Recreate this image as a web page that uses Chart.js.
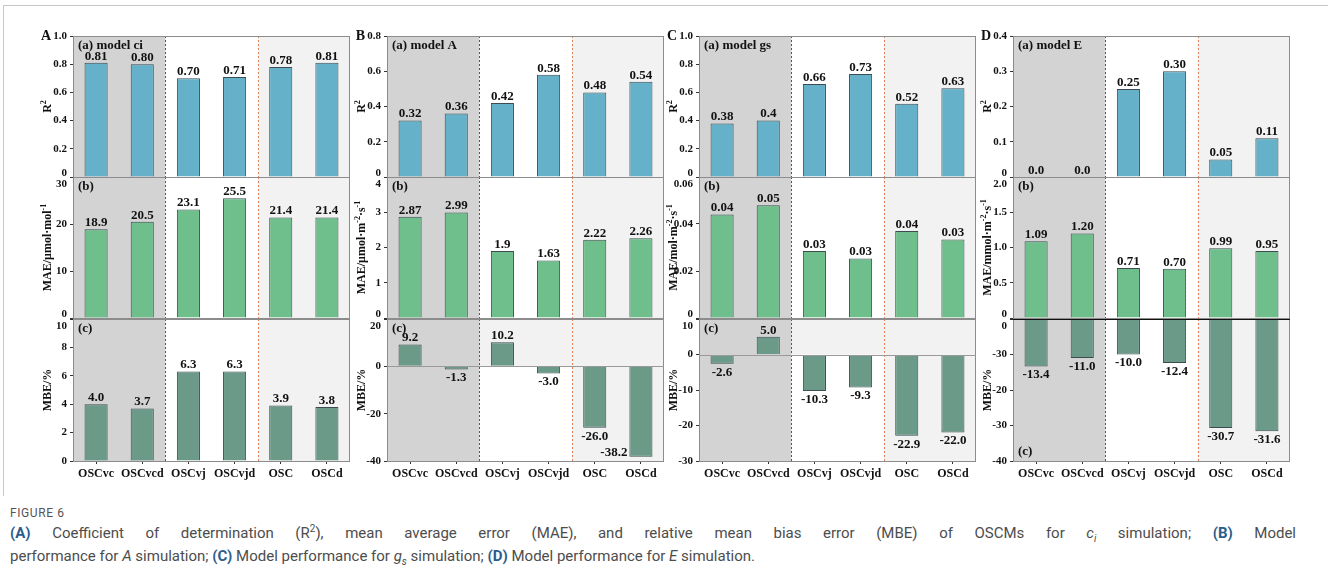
<!DOCTYPE html>
<html>
<head>
<meta charset="utf-8">
<script src="https://cdn.jsdelivr.net/npm/chart.js@4.4.1/dist/chart.umd.min.js"></script>
<style>
html, body { margin: 0; padding: 0; background: #fff; }
body { width: 1328px; height: 578px; position: relative; overflow: hidden; }
#frame { position: absolute; left: 3px; top: 5px; width: 1325px; height: 490px;
  border-top: 1px solid #c8c8c8; border-left: 1px solid #c8c8c8; }
canvas { position: absolute; }
#cap { position: absolute; left: 10px; top: 504px; font-family: Roboto, 'Open Sans', sans-serif; color: #4d4d4d; }
#cap .fig { font-size: 12px; letter-spacing: 0.6px; color: #555; line-height: 18px; }
#cap .line { font-size: 15px; line-height: 23px; white-space: nowrap; }
#cap .line.j { width: 1286px; white-space: normal; text-align: justify; text-align-last: justify; }
#cap .line b { color: #2b5d8c; }
#cap sup, #cap sub { font-size: 10px; line-height: 0; }
</style>
</head>
<body>
<div id="frame"></div>
<div id="figs"></div>
<div id="cap">
  <div class="fig">FIGURE 6</div>
  <div class="line j"><b>(A)</b> Coefficient of determination (R<sup>2</sup>), mean average error (MAE), and relative mean bias error (MBE) of OSCMs for <i>c<sub>i</sub></i> simulation; <b>(B)</b> Model</div>
  <div class="line">performance for <i>A</i> simulation; <b>(C)</b> Model performance for <i>g<sub>s</sub></i> simulation; <b>(D)</b> Model performance for <i>E</i> simulation.</div>
</div>
<script>
(function () {
    'use strict';

    // ---- data ----
    var categories = ['OSCvc', 'OSCvcd', 'OSCvj', 'OSCvjd', 'OSC', 'OSCd'];

    // (A) ci
    var r2Ci = [0.81, 0.80, 0.70, 0.71, 0.78, 0.81];
    var r2CiText = ['0.81', '0.80', '0.70', '0.71', '0.78', '0.81'];
    var maeCi = [18.9, 20.5, 23.1, 25.5, 21.4, 21.4];
    var maeCiText = ['18.9', '20.5', '23.1', '25.5', '21.4', '21.4'];
    var mbeCi = [4.0, 3.7, 6.3, 6.3, 3.9, 3.8];
    var mbeCiText = ['4.0', '3.7', '6.3', '6.3', '3.9', '3.8'];

    // (B) A
    var r2A = [0.32, 0.36, 0.42, 0.58, 0.48, 0.54];
    var r2AText = ['0.32', '0.36', '0.42', '0.58', '0.48', '0.54'];
    var maeA = [2.87, 2.99, 1.9, 1.63, 2.22, 2.26];
    var maeAText = ['2.87', '2.99', '1.9', '1.63', '2.22', '2.26'];
    var mbeA = [9.2, -1.3, 10.2, -3.0, -26.0, -38.2];
    var mbeAText = ['9.2', '-1.3', '10.2', '-3.0', '-26.0', '-38.2'];

    // (C) gs
    var r2Gs = [0.38, 0.40, 0.66, 0.73, 0.52, 0.63];
    var r2GsText = ['0.38', '0.4', '0.66', '0.73', '0.52', '0.63'];
    var maeGs = [0.044, 0.048, 0.0285, 0.0253, 0.037, 0.0334];
    var maeGsText = ['0.04', '0.05', '0.03', '0.03', '0.04', '0.03'];
    var mbeGs = [-2.6, 5.0, -10.3, -9.3, -22.9, -22.0];
    var mbeGsText = ['-2.6', '5.0', '-10.3', '-9.3', '-22.9', '-22.0'];

    // (D) E
    var r2E = [0.0, 0.0, 0.25, 0.30, 0.05, 0.11];
    var r2EText = ['0.0', '0.0', '0.25', '0.30', '0.05', '0.11'];
    var maeE = [1.09, 1.20, 0.71, 0.70, 0.99, 0.95];
    var maeEText = ['1.09', '1.20', '0.71', '0.70', '0.99', '0.95'];
    var mbeE = [-13.4, -11.0, -10.0, -12.4, -30.7, -31.6];
    var mbeEText = ['-13.4', '-11.0', '-10.0', '-12.4', '-30.7', '-31.6'];

    // y ticks
    var ticksR2One = [0, 0.2, 0.4, 0.6, 0.8, 1.0];
    var ticksR2OneText = ['0', '0.2', '0.4', '0.6', '0.8', '1.0'];
    var ticksR2A = [0, 0.2, 0.4, 0.6, 0.8];
    var ticksR2AText = ['0', '0.2', '0.4', '0.6', '0.8'];
    var ticksR2E = [0, 0.1, 0.2, 0.3, 0.4];
    var ticksR2EText = ['0', '0.1', '0.2', '0.3', '0.4'];
    var ticksMaeCi = [0, 10, 20, 30];
    var ticksMaeCiText = ['0', '10', '20', '30'];
    var ticksMaeA = [0, 1, 2, 3, 4];
    var ticksMaeAText = ['0', '1', '2', '3', '4'];
    var ticksMaeGs = [0, 0.02, 0.04, 0.06];
    var ticksMaeGsText = ['0', '0.02', '0.04', '0.06'];
    var ticksMaeE = [0, 0.5, 1.0, 1.5, 2.0];
    var ticksMaeEText = ['0', '0.5', '1.0', '1.5', '2.0'];
    var ticksMbeCi = [0, 2, 4, 6, 8, 10];
    var ticksMbeCiText = ['0', '2', '4', '6', '8', '10'];
    var ticksMbeA = [-40, -20, 0, 20];
    var ticksMbeAText = ['-40', '-20', '0', '20'];
    var ticksMbeGs = [-30, -20, -10, 0, 10];
    var ticksMbeGsText = ['-30', '-20', '-10', '0', '10'];
    var ticksMbeE = [-40, -30, -20, -10, 0];
    var ticksMbeEText = ['-40', '-30', '-20', '-30', '0'];

    // ---- look ----
    var SERIF = "'Liberation Serif', 'Times New Roman', serif";
    var BLUE = '#65b1ca';
    var GREEN = '#6ebf8b';
    var DKGREEN = '#6b9a89';
    var EDGE = '#3b4b50';
    var SHADE_DARK = '#d3d3d3';
    var SHADE_LIGHT = '#f2f2f2';
    var TXT = '#111';

    var COL_LEFT = [73, 387, 699, 1013];
    var PLOT_W = 277;
    var ROW_TOP = [36, 177, 319];
    var ROW_H = [141, 141, 142];

    var ylabR2 = [['R', 0], ['2', 1]];
    var ylabMbe = [['MBE/%', 0]];

    var columns = [
        { letter: 'A', title: '(a) model ci', rows: [
            { values: r2Ci, text: r2CiText, ticks: ticksR2One, tickText: ticksR2OneText, color: BLUE, ylab: ylabR2 },
            { values: maeCi, text: maeCiText, ticks: ticksMaeCi, tickText: ticksMaeCiText, color: GREEN,
              ylab: [['MAE/\u03bcmol\u00b7mol', 0], ['-1', 1]] },
            { values: mbeCi, text: mbeCiText, ticks: ticksMbeCi, tickText: ticksMbeCiText, color: DKGREEN, ylab: ylabMbe }
        ] },
        { letter: 'B', title: '(a) model A', rows: [
            { values: r2A, text: r2AText, ticks: ticksR2A, tickText: ticksR2AText, color: BLUE, ylab: ylabR2 },
            { values: maeA, text: maeAText, ticks: ticksMaeA, tickText: ticksMaeAText, color: GREEN,
              ylab: [['MAE/\u03bcmol\u00b7m', 0], ['-2', 1], ['\u00b7s', 0], ['-1', 1]] },
            { values: mbeA, text: mbeAText, ticks: ticksMbeA, tickText: ticksMbeAText, color: DKGREEN, ylab: ylabMbe,
              band: true, zeroColor: '#9a9a9a' }
        ] },
        { letter: 'C', title: '(a) model gs', rows: [
            { values: r2Gs, text: r2GsText, ticks: ticksR2One, tickText: ticksR2OneText, color: BLUE, ylab: ylabR2 },
            { values: maeGs, text: maeGsText, ticks: ticksMaeGs, tickText: ticksMaeGsText, color: GREEN,
              ylab: [['MAE/mol\u00b7m', 0], ['-2', 1], ['\u00b7s', 0], ['-1', 1]] },
            { values: mbeGs, text: mbeGsText, ticks: ticksMbeGs, tickText: ticksMbeGsText, color: DKGREEN, ylab: ylabMbe,
              band: true, zeroColor: '#9a9a9a' }
        ] },
        { letter: 'D', title: '(a) model E', rows: [
            { values: r2E, text: r2EText, ticks: ticksR2E, tickText: ticksR2EText, color: BLUE, ylab: ylabR2 },
            { values: maeE, text: maeEText, ticks: ticksMaeE, tickText: ticksMaeEText, color: GREEN,
              ylab: [['MAE/mmol\u00b7m', 0], ['-2', 1], ['\u00b7s', 0], ['-1', 1]] },
            { values: mbeE, text: mbeEText, ticks: ticksMbeE, tickText: ticksMbeEText, color: DKGREEN, ylab: ylabMbe,
              zeroColor: '#111', panelAtBottom: true }
        ] }
    ];

    function drawRich(ctx, segs, cx, cy, size) {
        var main = 'bold ' + size + 'px ' + SERIF;
        var small = 'bold ' + Math.round(size * 0.68) + 'px ' + SERIF;
        var w = 0;
        segs.forEach(function (s) {
            ctx.font = s[1] ? small : main;
            w += ctx.measureText(s[0]).width;
        });
        ctx.save();
        ctx.translate(cx, cy);
        ctx.rotate(-Math.PI / 2);
        ctx.textAlign = 'left';
        ctx.textBaseline = 'middle';
        ctx.fillStyle = TXT;
        var x = -w / 2;
        segs.forEach(function (s) {
            ctx.font = s[1] ? small : main;
            ctx.fillText(s[0], x, s[1] ? -size * 0.38 : 0);
            x += ctx.measureText(s[0]).width;
        });
        ctx.restore();
    }

    function cellPlugin(col, row, ri) {
        return {
            id: 'cellDecor',
            beforeDatasetsDraw: function (chart) {
                var ctx = chart.ctx, a = chart.chartArea;
                var xs = chart.scales.x, ys = chart.scales.y;
                var s1 = (xs.getPixelForValue(1) + xs.getPixelForValue(2)) / 2;
                var s2 = (xs.getPixelForValue(3) + xs.getPixelForValue(4)) / 2;
                ctx.save();
                if (row.band) {
                    var y0 = ys.getPixelForValue(0);
                    ctx.fillStyle = SHADE_LIGHT;
                    ctx.fillRect(a.left, a.top, a.right - a.left, y0 - a.top);
                }
                ctx.fillStyle = SHADE_DARK;
                ctx.fillRect(a.left, a.top, s1 - a.left, a.bottom - a.top);
                ctx.fillStyle = SHADE_LIGHT;
                ctx.fillRect(s2, a.top, a.right - s2, a.bottom - a.top);

                ctx.lineWidth = 1;
                ctx.setLineDash([2, 2]);
                ctx.strokeStyle = '#555';
                ctx.beginPath();
                ctx.moveTo(Math.round(s1) + 0.5, a.top);
                ctx.lineTo(Math.round(s1) + 0.5, a.bottom);
                ctx.stroke();
                ctx.strokeStyle = '#e5845e';
                ctx.beginPath();
                ctx.moveTo(Math.round(s2) + 0.5, a.top);
                ctx.lineTo(Math.round(s2) + 0.5, a.bottom);
                ctx.stroke();
                ctx.restore();
            },
            afterDatasetsDraw: function (chart) {
                var ctx = chart.ctx, a = chart.chartArea;
                var ys = chart.scales.y;
                ctx.save();
                // frame
                ctx.strokeStyle = '#8c8c8c';
                ctx.lineWidth = 1;
                ctx.strokeRect(a.left + 0.5, a.top + 0.5, a.right - a.left - 1, a.bottom - a.top);
                if (row.zeroColor) {
                    var yz = Math.round(ys.getPixelForValue(0)) + 0.5;
                    ctx.strokeStyle = row.zeroColor;
                    ctx.beginPath();
                    ctx.moveTo(a.left, yz);
                    ctx.lineTo(a.right, yz);
                    ctx.stroke();
                }

                // y tick labels (edge labels nudged away from the row joins)
                ctx.fillStyle = TXT;
                ctx.font = 'bold 11px ' + SERIF;
                ctx.textAlign = 'right';
                ctx.textBaseline = 'middle';
                var n = row.ticks.length;
                row.ticks.forEach(function (v, i) {
                    var dy = 0;
                    if (i === n - 1 && ri > 0) { dy = 7; }
                    if (i === 0 && ri < 2) { dy = -4; }
                    ctx.fillText(row.tickText[i], a.left - 6, ys.getPixelForValue(v) + dy);
                });

                // value labels
                ctx.font = 'bold 13px ' + SERIF;
                var meta = chart.getDatasetMeta(0);
                meta.data.forEach(function (el, i) {
                    var v = row.values[i];
                    var t = row.text[i];
                    if (v >= 0) {
                        ctx.textAlign = 'center';
                        ctx.textBaseline = 'bottom';
                        ctx.fillText(t, el.x, el.y);
                    } else if (el.y + 16 > a.bottom) {
                        ctx.textAlign = 'right';
                        ctx.textBaseline = 'bottom';
                        ctx.fillText(t, el.x - el.width / 2 - 2, el.y + 2);
                    } else {
                        ctx.textAlign = 'center';
                        ctx.textBaseline = 'top';
                        ctx.fillText(t, el.x, el.y + 2);
                    }
                });

                // panel tag
                ctx.font = 'bold 13px ' + SERIF;
                ctx.textAlign = 'left';
                ctx.textBaseline = 'middle';
                var tag = ri === 0 ? col.title : (ri === 1 ? '(b)' : '(c)');
                ctx.fillText(tag, a.left + 5, row.panelAtBottom ? a.bottom - 9 : a.top + 10);

                // column letter
                if (ri === 0) {
                    ctx.font = 'bold 14px ' + SERIF;
                    ctx.textAlign = 'right';
                    ctx.fillText(col.letter, a.left - 22, a.top);
                }
                ctx.restore();

                drawRich(ctx, row.ylab, a.left - 25, (a.top + a.bottom) / 2, 12);
            }
        };
    }

    function makeCell(ci, ri) {
        var col = columns[ci];
        var row = col.rows[ri];
        var last = ri === 2;
        var padTop = 16, padBottom = last ? 28 : 16, padLeft = 74, padRight = 34;
        var canvas = document.createElement('canvas');
        canvas.width = padLeft + PLOT_W + padRight;
        canvas.height = padTop + ROW_H[ri] + padBottom;
        canvas.style.left = (COL_LEFT[ci] - padLeft) + 'px';
        canvas.style.top = (ROW_TOP[ri] - padTop) + 'px';
        document.getElementById('figs').appendChild(canvas);

        new Chart(canvas, {
            type: 'bar',
            data: {
                labels: categories,
                datasets: [{
                    data: row.values,
                    backgroundColor: row.color,
                    borderColor: EDGE,
                    borderWidth: 1,
                    barPercentage: 0.5,
                    categoryPercentage: 1
                }]
            },
            options: {
                responsive: false,
                animation: false,
                devicePixelRatio: 1,
                layout: { padding: { left: 0, top: padTop, right: padRight, bottom: last ? 0 : padBottom } },
                plugins: { legend: { display: false }, tooltip: { enabled: false } },
                scales: {
                    x: {
                        offset: true,
                        border: { display: false },
                        grid: { display: last, drawOnChartArea: false, offset: false, tickLength: 3, color: '#333' },
                        ticks: {
                            display: last,
                            autoSkip: false,
                            maxRotation: 0,
                            padding: 3,
                            color: TXT,
                            font: { family: SERIF, size: 12, weight: 'bold' }
                        },
                        afterFit: function (s) { s.height = last ? padBottom : 0; }
                    },
                    y: {
                        min: row.ticks[0],
                        max: row.ticks[row.ticks.length - 1],
                        afterBuildTicks: function (s) {
                            s.ticks = row.ticks.map(function (v) { return { value: v }; });
                        },
                        border: { display: false },
                        grid: { drawOnChartArea: false, tickLength: 3, color: '#333' },
                        ticks: { display: false },
                        afterFit: function (s) { s.width = padLeft; }
                    }
                }
            },
            plugins: [cellPlugin(col, row, ri)]
        });
    }

    for (var c = 0; c < columns.length; c++) {
        for (var r = 0; r < 3; r++) {
            makeCell(c, r);
        }
    }
})();
</script>
</body>
</html>
